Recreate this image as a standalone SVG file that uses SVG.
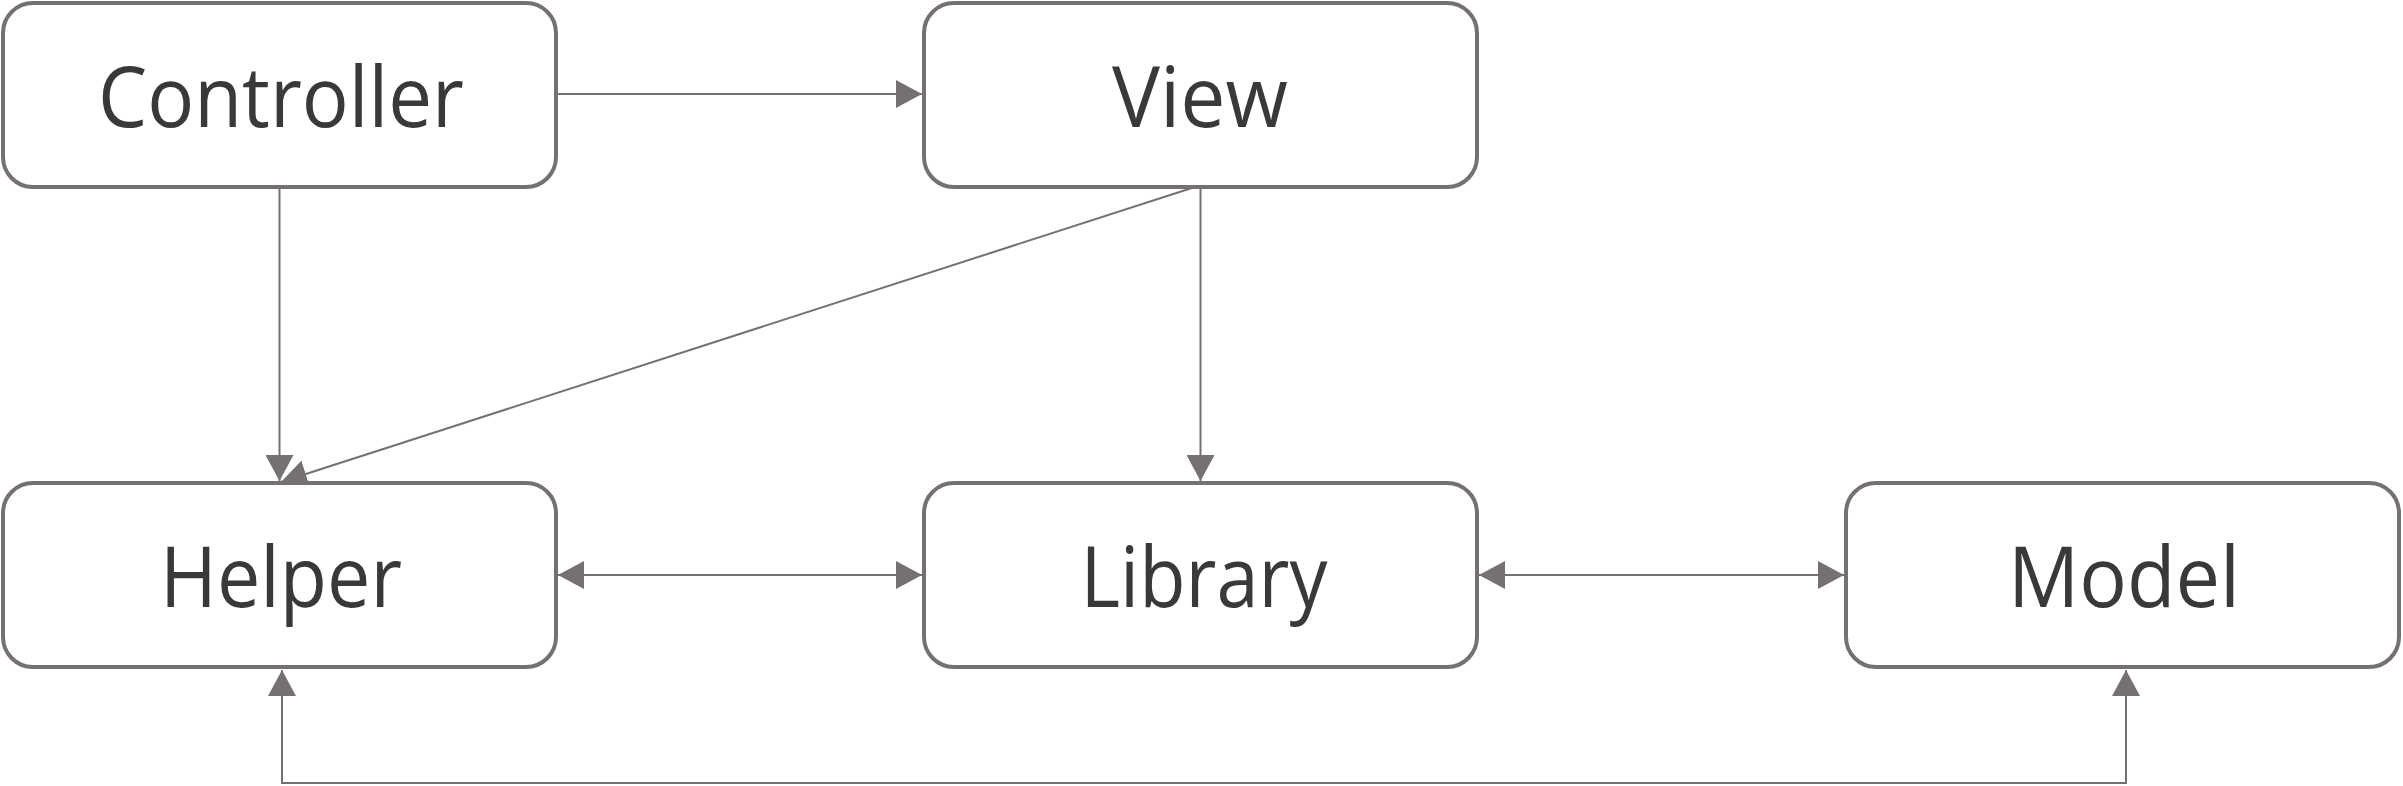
<svg xmlns="http://www.w3.org/2000/svg" width="2403" height="786" viewBox="0 0 2403 786">
<style>
.box{fill:#ffffff;stroke:#767171;stroke-width:4}
.lbl{font-family:"Open Sans","Noto Sans","Liberation Sans",sans-serif;font-size:85px;fill:#3b3838;text-anchor:middle}
.conn{fill:none;stroke:#767171;stroke-width:2}
</style>
<defs>
<marker id="arr" markerUnits="userSpaceOnUse" markerWidth="28" markerHeight="28" refX="26" refY="14" orient="auto-start-reverse" viewBox="0 0 28 28">
<path d="M0,0 L26,14 L0,28 Z" fill="#767171"/>
</marker>
</defs>
<rect width="2403" height="786" fill="#ffffff"/>
<g id="connectors">
<line class="conn" x1="556" y1="94" x2="922" y2="94" marker-end="url(#arr)"/>
<line class="conn" x1="279.5" y1="187" x2="279.5" y2="481" marker-end="url(#arr)"/>
<line class="conn" x1="1195" y1="187" x2="281" y2="482" marker-end="url(#arr)"/>
<line class="conn" x1="1200.5" y1="187" x2="1200.5" y2="481" marker-end="url(#arr)"/>
<line class="conn" x1="558" y1="575" x2="922" y2="575" marker-start="url(#arr)" marker-end="url(#arr)"/>
<line class="conn" x1="1479" y1="575" x2="1844" y2="575" marker-start="url(#arr)" marker-end="url(#arr)"/>
<path class="conn" d="M282,670 V783 H2126 V670" marker-start="url(#arr)" marker-end="url(#arr)"/>
</g>
<g id="controller">
<rect class="box" x="3" y="3" width="553" height="184" rx="30"/>
<text class="lbl" x="281" y="127" textLength="366" lengthAdjust="spacingAndGlyphs">Controller</text>
</g>
<g id="view">
<rect class="box" x="924" y="3" width="553" height="184" rx="30"/>
<text class="lbl" x="1200" y="127" textLength="176" lengthAdjust="spacingAndGlyphs">View</text>
</g>
<g id="helper">
<rect class="box" x="3" y="483" width="553" height="184" rx="30"/>
<text class="lbl" x="281" y="607" textLength="242" lengthAdjust="spacingAndGlyphs">Helper</text>
</g>
<g id="library">
<rect class="box" x="924" y="483" width="553" height="184" rx="30"/>
<text class="lbl" x="1204" y="607" textLength="247" lengthAdjust="spacingAndGlyphs">Library</text>
</g>
<g id="model">
<rect class="box" x="1846" y="483" width="553" height="184" rx="30"/>
<text class="lbl" x="2124" y="607" textLength="232" lengthAdjust="spacingAndGlyphs">Model</text>
</g>
</svg>
